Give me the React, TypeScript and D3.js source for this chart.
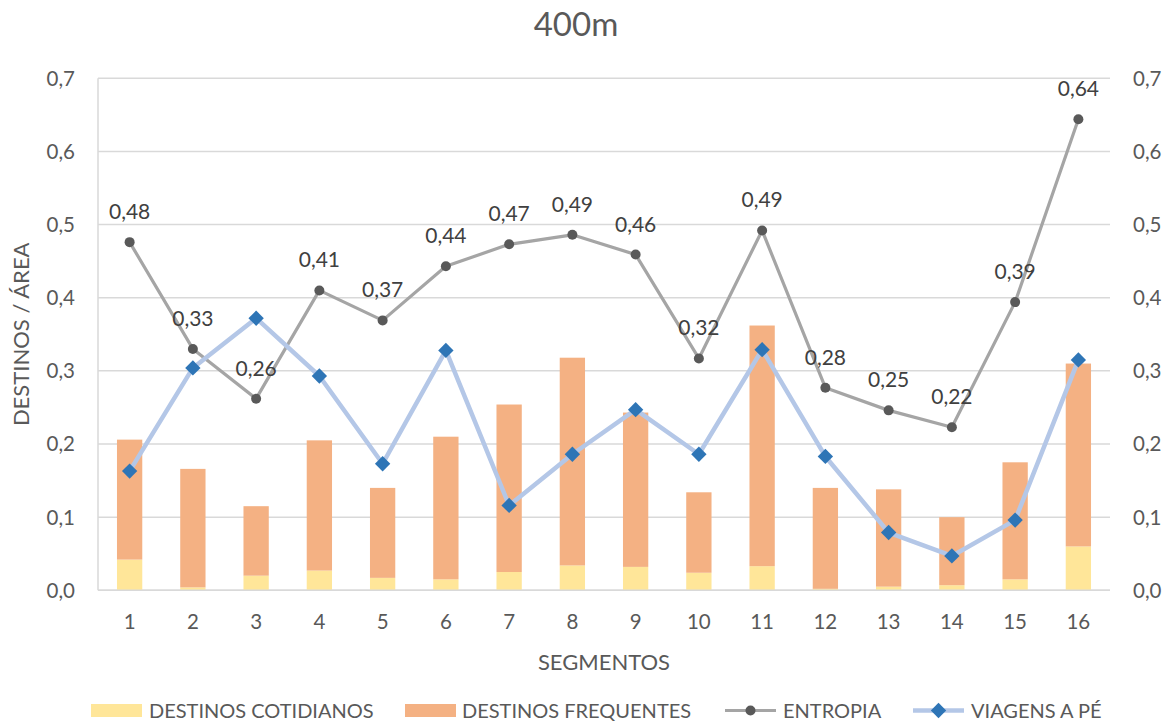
import * as d3 from "d3";

const W = 1173;
const H = 724;

const categories = ["1", "2", "3", "4", "5", "6", "7", "8", "9", "10", "11", "12", "13", "14", "15", "16"];
// stacked bars
const cotidianos = [0.042, 0.004, 0.02, 0.027, 0.017, 0.015, 0.025, 0.034, 0.032, 0.024, 0.033, 0.002, 0.005, 0.007, 0.015, 0.06];
const frequentes = [0.164, 0.162, 0.095, 0.178, 0.123, 0.195, 0.229, 0.284, 0.211, 0.11, 0.329, 0.138, 0.133, 0.093, 0.16, 0.25];
// lines
const entropia = [0.476, 0.33, 0.262, 0.41, 0.369, 0.443, 0.473, 0.486, 0.459, 0.317, 0.492, 0.277, 0.246, 0.223, 0.394, 0.644];
const viagens = [0.163, 0.304, 0.372, 0.293, 0.173, 0.328, 0.116, 0.186, 0.247, 0.186, 0.329, 0.183, 0.079, 0.047, 0.096, 0.315];
const yTicks = [0, 0.1, 0.2, 0.3, 0.4, 0.5, 0.6, 0.7];

const FONT = "Lato, 'Open Sans', sans-serif";
const textGrey = "#595959";

const left = 98, right = 1110, top = 78.3, bottom = 590.3;

const comma = (f: string) => (v: number) => d3.format(f)(v).replace(".", ",");

export default function App() {
    const x = d3.scaleBand<string>().domain(categories).range([left, right]).paddingInner(0.6).paddingOuter(0.3);
    const y = d3.scaleLinear().domain([0, 0.7]).range([bottom, top]);
    const cx = (c: string) => (x(c) ?? 0) + x.bandwidth() / 2;

    const stack = d3.stack<number>().keys(["cot", "freq"]).value((i, k) => k == "cot" ? cotidianos[i] : frequentes[i]);
    const layers = stack(d3.range(categories.length));
    const barColors = ["#FFE699", "#F4B183"];

    const line = d3.line<number>()
        .x((d, i) => cx(categories[i]))
        .y(d => y(d));

    const diamond = d3.symbol().type(d3.symbolDiamond2).size(150);

    return (
        <svg width={W} height={H} style={{ position: "absolute", left: 0, top: 0, background: "#fff" }} fontFamily={FONT}>
            <text x={576} y={36} textAnchor="middle" fontSize={33} fill={textGrey}>400m</text>

            {/* grid */}
            {yTicks.map(t => (
                <line key={t} x1={left} x2={right} y1={y(t)} y2={y(t)} stroke="#D9D9D9" strokeWidth={1.5} />
            ))}
            <line x1={left} x2={left} y1={top} y2={bottom} stroke="#D9D9D9" strokeWidth={1.5} />

            {/* left and right tick labels */}
            {yTicks.map(t => (
                <g key={"t" + t}>
                    <text x={75} y={y(t)} dy="0.36em" textAnchor="end" fontSize={20.5} fill={textGrey}>{comma(".1f")(t)}</text>
                    <text x={1133} y={y(t)} dy="0.36em" textAnchor="start" fontSize={20.5} fill={textGrey}>{comma(".1f")(t)}</text>
                </g>
            ))}

            {/* bars */}
            {layers.map((layer, li) => layer.map((d, i) => (
                <rect key={li + "-" + i}
                    x={x(categories[i])}
                    width={x.bandwidth()}
                    y={y(d[1])}
                    height={y(d[0]) - y(d[1])}
                    fill={barColors[li]} />
            )))}

            {/* x axis */}
            <line x1={left} x2={right} y1={bottom} y2={bottom} stroke="#D9D9D9" strokeWidth={1.5} />
            {categories.map(c => (
                <text key={"c" + c} x={cx(c)} y={629} textAnchor="middle" fontSize={20.5} fill={textGrey}>{c}</text>
            ))}

            {/* entropia */}
            <path d={line(entropia) ?? ""} fill="none" stroke="#A5A5A5" strokeWidth={3.2} strokeLinejoin="round" />
            {entropia.map((v, i) => (
                <circle key={"e" + i} cx={cx(categories[i])} cy={y(v)} r={5} fill="#595959" />
            ))}

            {/* viagens */}
            <path d={line(viagens) ?? ""} fill="none" stroke="#B4C7E7" strokeWidth={4.5} strokeLinejoin="round" />
            {viagens.map((v, i) => (
                <path key={"v" + i} d={diamond() ?? ""} transform={`translate(${cx(categories[i])},${y(v)})`} fill="#2E75B6" />
            ))}

            {/* entropia labels */}
            {entropia.map((v, i) => (
                <text key={"l" + i} x={cx(categories[i])} y={y(v) - 23} textAnchor="middle" fontSize={21} fill="#404040">{comma(".2f")(v)}</text>
            ))}

            {/* axis titles */}
            <text transform={`translate(29,${(top + bottom) / 2})rotate(-90)`} textAnchor="middle" fontSize={22} fill={textGrey}>DESTINOS / ÁREA</text>
            <text x={(left + right) / 2} y={670} textAnchor="middle" fontSize={22} fill={textGrey}>SEGMENTOS</text>

            {/* legend */}
            <g fontSize={20} fill={textGrey}>
                <rect x={91} y={704} width={51} height={13} fill={barColors[0]} />
                <text x={149} y={718}>DESTINOS COTIDIANOS</text>
                <rect x={405} y={704} width={51} height={13} fill={barColors[1]} />
                <text x={462} y={718}>DESTINOS FREQUENTES</text>
                <line x1={725} x2={776} y1={710.5} y2={710.5} stroke="#A5A5A5" strokeWidth={3.2} />
                <circle cx={750.5} cy={710.5} r={5} fill="#595959" />
                <text x={783} y={718}>ENTROPIA</text>
                <line x1={913} x2={964} y1={710.5} y2={710.5} stroke="#B4C7E7" strokeWidth={4.5} />
                <path d={diamond() ?? ""} transform="translate(938.5,710.5)" fill="#2E75B6" />
                <text x={971} y={718}>VIAGENS A PÉ</text>
            </g>
        </svg>
    );
}
